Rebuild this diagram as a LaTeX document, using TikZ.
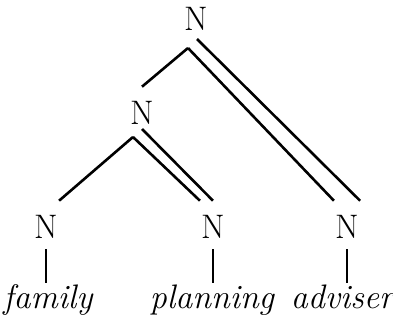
\documentclass[tikz,border=0pt]{standalone}
\usepackage{tikz}

\newcommand\treefont{\fontsize{17}{20}\selectfont}

\begin{document}
\begin{tikzpicture}[x=0.5pt,y=-0.5pt,
  cat/.style={anchor=base,inner sep=0pt,text height=18pt,text depth=5pt,font=\treefont},
  word/.style={anchor=base,inner sep=0pt,font=\treefont\itshape},
  every path/.style={line width=1.3pt}]
\useasboundingbox (0,0) rectangle (393,323);
% categories
\node[cat] (top) at (196,30) {N};
\node[cat] (mid) at (142,124) {N};
\node[cat] (fam) at (46,238) {N};
\node[cat] (plan) at (213,238) {N};
\node[cat] (adv) at (347,238) {N};
% words
\node[word] (famw) at (48,308) {family};
\node[word] (planw) at (212,308) {planning};
\node[word] (advw) at (342,308) {adviser};
% fork points under the two upper N's
\coordinate (top-r) at (197,39);
\coordinate (top-l) at (188,48);
\coordinate (mid-r) at (142,129);
\coordinate (mid-l) at (133,137);
% branches, heads get the double line
\draw (top-l) -- (mid.north);
\draw (top-r) -- (adv.north east);
\draw (top-l) -- (adv.north west);
\draw (mid-l) -- (fam.north east);
\draw (mid-r) -- (plan.north);
\draw (mid-l) -- (plan.north west);
% leaves
\draw (fam.south) -- (fam.south |- famw.north);
\draw (plan.south) -- (plan.south |- planw.north);
\draw (adv.south) -- (adv.south |- advw.north);
\end{tikzpicture}
\end{document}
